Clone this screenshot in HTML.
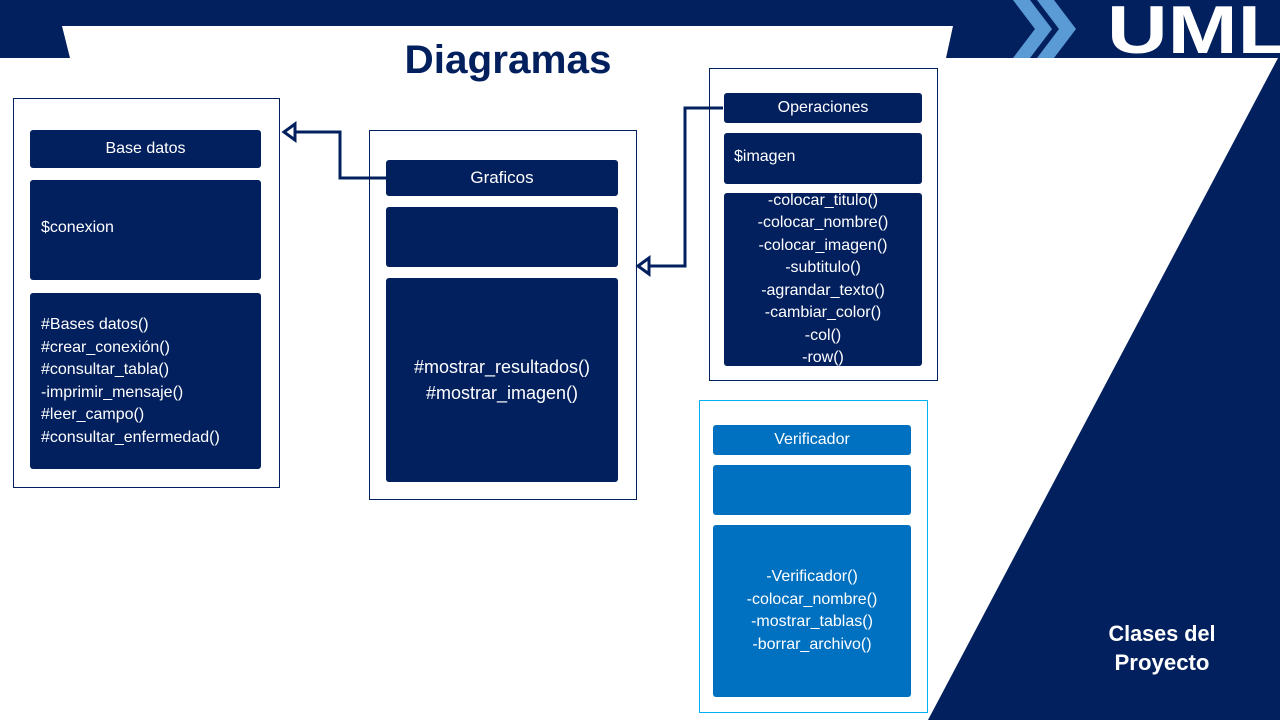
<!DOCTYPE html>
<html><head><meta charset="utf-8"><style>
body{margin:0;width:1280px;height:720px;overflow:hidden;background:#fff;font-family:"Liberation Sans","DejaVu Sans",sans-serif}
.t{position:absolute;color:#fff;font-size:16px;box-sizing:border-box}
.d{background:#03205e;border-radius:3px}
.b{background:#0070c0;border-radius:3px}
.c{display:flex;align-items:center;justify-content:center;text-align:center;line-height:22.5px}
.frame{position:absolute;border:1px solid #03205e;box-sizing:border-box}
</style></head><body>
<svg width="1280" height="720" style="position:absolute;left:0;top:0">
<polygon points="0,0 1280,0 1280,58 0,58" fill="#03205e"/>
<polygon points="62,26 953,26 946,58 70,58" fill="#fff"/>
<polygon points="946,58 1278,58 928,720 946,720" fill="#fff"/>
<polygon points="1278,58 1280,58 1280,720 928,720" fill="#03205e"/>
<polygon points="1013,0 1030,0 1052,29 1030,58 1013,58 1035,29" fill="#5b9bd5"/>
<polygon points="1037,0 1054,0 1076,29 1054,58 1037,58 1059,29" fill="#5b9bd5"/>
<text x="1107" y="53" fill="#fff" font-family="Liberation Sans" font-weight="bold" font-size="68" textLength="182" lengthAdjust="spacingAndGlyphs">UML</text>
<text x="508" y="73" fill="#03205e" font-family="Liberation Sans" font-weight="bold" font-size="40" text-anchor="middle" textLength="207" lengthAdjust="spacingAndGlyphs">Diagramas</text>
<text x="1162" y="641" fill="#fff" font-family="Liberation Sans" font-weight="bold" font-size="22" text-anchor="middle" textLength="107" lengthAdjust="spacingAndGlyphs">Clases del</text>
<text x="1162" y="670" fill="#fff" font-family="Liberation Sans" font-weight="bold" font-size="22" text-anchor="middle" textLength="95" lengthAdjust="spacingAndGlyphs">Proyecto</text>
<polyline points="386,178 340,178 340,132 295,132" fill="none" stroke="#03205e" stroke-width="3"/>
<polygon points="284,132 295,124 295,140" fill="#fff" stroke="#03205e" stroke-width="3"/>
<polyline points="723,108 685,108 685,266 649,266" fill="none" stroke="#03205e" stroke-width="3"/>
<polygon points="638,266 649,258 649,274" fill="#fff" stroke="#03205e" stroke-width="3"/>
</svg>
<div class="frame" style="left:13px;top:98px;width:267px;height:390px"></div>
<div class="t d c" style="left:30px;top:130px;width:231px;height:38px">Base datos</div>
<div class="t d" style="left:30px;top:180px;width:231px;height:100px;padding:39px 0 0 11px">$conexion</div>
<div class="t d" style="left:30px;top:293px;width:231px;height:176px;padding:21px 0 0 11px;line-height:22.5px">#Bases datos()<br>#crear_conexión()<br>#consultar_tabla()<br>-imprimir_mensaje()<br>#leer_campo()<br>#consultar_enfermedad()</div>
<div class="frame" style="left:369px;top:130px;width:268px;height:370px"></div>
<div class="t d c" style="left:386px;top:160px;width:232px;height:36px;font-size:17px">Graficos</div>
<div class="t d" style="left:386px;top:207px;width:232px;height:60px"></div>
<div class="t d c" style="left:386px;top:278px;width:232px;height:204px;font-size:18px;line-height:26px">#mostrar_resultados()<br>#mostrar_imagen()</div>
<div class="frame" style="left:709px;top:68px;width:229px;height:313px"></div>
<div class="t d c" style="left:724px;top:93px;width:198px;height:30px">Operaciones</div>
<div class="t d" style="left:724px;top:133px;width:198px;height:51px;padding:15px 0 0 10px">$imagen</div>
<div class="t d c" style="left:724px;top:193px;width:198px;height:173px;line-height:22.5px;font-size:16px">-colocar_titulo()<br>-colocar_nombre()<br>-colocar_imagen()<br>-subtitulo()<br>-agrandar_texto()<br>-cambiar_color()<br>-col()<br>-row()</div>
<div class="frame" style="left:699px;top:400px;width:229px;height:313px;border-color:#00b0f0"></div>
<div class="t b c" style="left:713px;top:425px;width:198px;height:30px">Verificador</div>
<div class="t b" style="left:713px;top:465px;width:198px;height:50px"></div>
<div class="t b c" style="left:713px;top:525px;width:198px;height:172px;line-height:22.5px">-Verificador()<br>-colocar_nombre()<br>-mostrar_tablas()<br>-borrar_archivo()</div>
</body></html>
